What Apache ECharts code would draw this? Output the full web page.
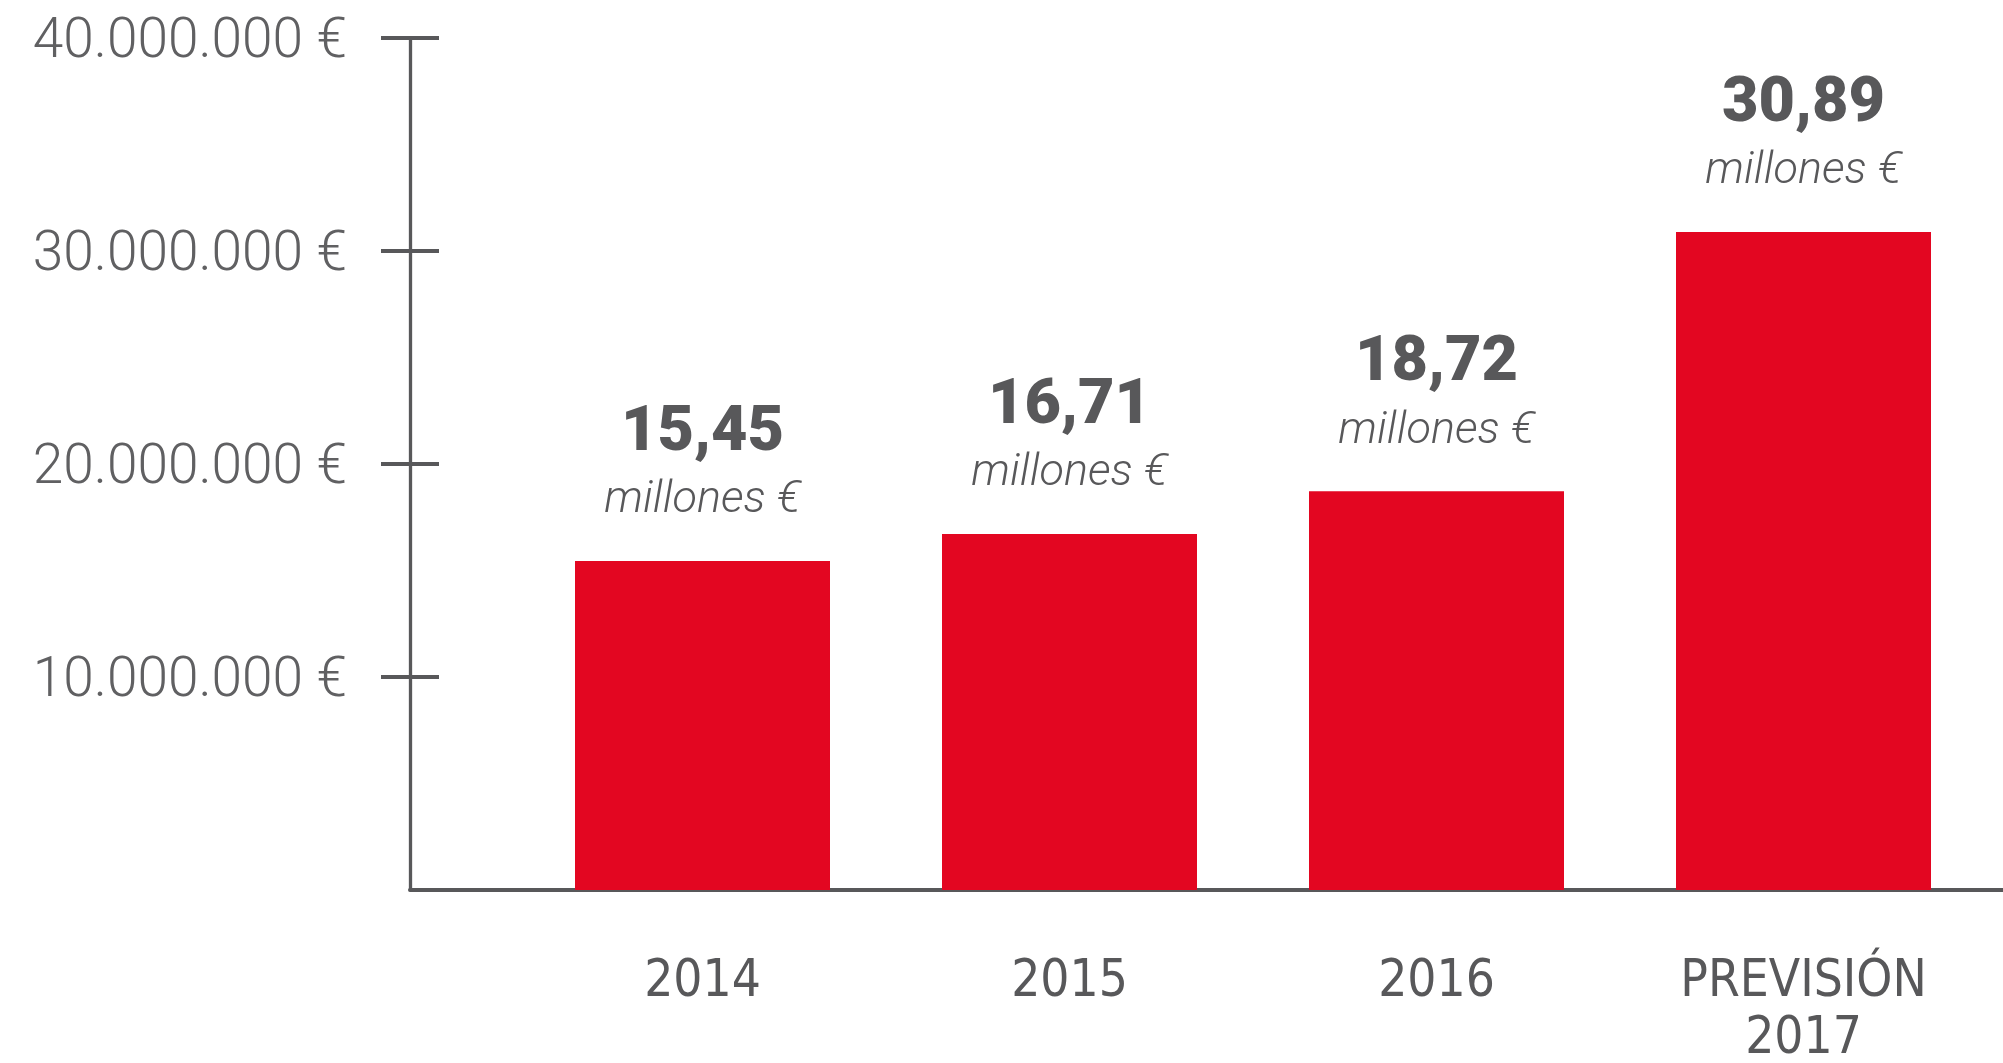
<!DOCTYPE html>
<html>
<head>
<meta charset="utf-8">
<script src="https://cdn.jsdelivr.net/npm/echarts@6/dist/echarts.min.js"></script>
<style>
html,body{margin:0;padding:0;background:#fff;}
#c{width:2003px;height:1063px;}
</style>
</head>
<body>
<div id="c"></div>
<script>
const categories = ['2014', '2015', '2016', 'PREVISIÓN\n2017'];
const values = [15450000, 16710000, 18720000, 30890000];
const yTicks = [10000000, 20000000, 30000000, 40000000];

const GRAY = '#58585a';
const RED = '#e30621';
const yFmt = v => '{t|' + v.toLocaleString('de-DE') + ' €}';
const valFmt = v => (v / 1e6).toFixed(2).replace('.', ',');

const chart = echarts.init(document.getElementById('c'), null, {renderer: 'canvas'});
chart.setOption({
  animation: false,
  grid: [
    {left: 519, right: 16, top: 38, bottom: 173, outerBoundsMode: 'none', containLabel: false},
    {left: 410, right: 0, top: 38, bottom: 173, outerBoundsMode: 'none', containLabel: false}
  ],
  xAxis: [
    {
      type: 'category', gridIndex: 0, data: categories,
      axisLine: {show: false}, axisTick: {show: false},
      axisLabel: {
        margin: 64, color: GRAY, fontSize: 51, lineHeight: 57,
        fontFamily: "'Liberation Sans Narrow', 'DejaVu Sans Condensed', Roboto, sans-serif"
      }
    },
    {
      type: 'value', gridIndex: 1, min: 0, max: 1,
      axisLine: {show: true, lineStyle: {color: GRAY, width: 4}},
      axisTick: {show: false}, axisLabel: {show: false}, splitLine: {show: false}
    }
  ],
  yAxis: [
    {
      type: 'value', gridIndex: 0, min: 0, max: 40000000, interval: 10000000,
      position: 'left', offset: 109,
      axisLine: {show: true, lineStyle: {color: GRAY, width: 3.3}},
      axisTick: {show: true, length: 29, inside: false, customValues: yTicks, lineStyle: {color: GRAY, width: 4}},
      axisLabel: {
        margin: 63, customValues: yTicks, formatter: yFmt,
        rich: {
          t: {padding: [10, 0, 0, 0], color: '#606062', fontSize: 55, fontWeight: 300, fontFamily: 'Roboto, sans-serif'}
        }
      },
      splitLine: {show: false}
    },
    {
      type: 'value', gridIndex: 0, min: 0, max: 40000000, interval: 10000000,
      position: 'left', offset: 109,
      axisLine: {show: false},
      axisTick: {show: true, length: 29, inside: true, customValues: yTicks, lineStyle: {color: GRAY, width: 4}},
      axisLabel: {show: false}, splitLine: {show: false}
    },
    {gridIndex: 1, type: 'value', show: false, min: 0, max: 1}
  ],
  series: [{
    type: 'bar', xAxisIndex: 0, yAxisIndex: 0,
    data: values, barWidth: 255,
    itemStyle: {color: RED},
    label: {
      show: true, position: 'top', distance: 30,
      formatter: p => '{v|' + valFmt(p.value) + '}\n{m|millones €}',
      rich: {
        v: {fontSize: 63, fontWeight: 900, color: GRAY, fontFamily: 'Roboto, sans-serif', lineHeight: 74, align: 'center'},
        m: {fontSize: 45, fontWeight: 300, fontStyle: 'italic', color: GRAY, fontFamily: 'Roboto, sans-serif', lineHeight: 60, align: 'center'}
      }
    }
  }]
});
</script>
</body>
</html>
